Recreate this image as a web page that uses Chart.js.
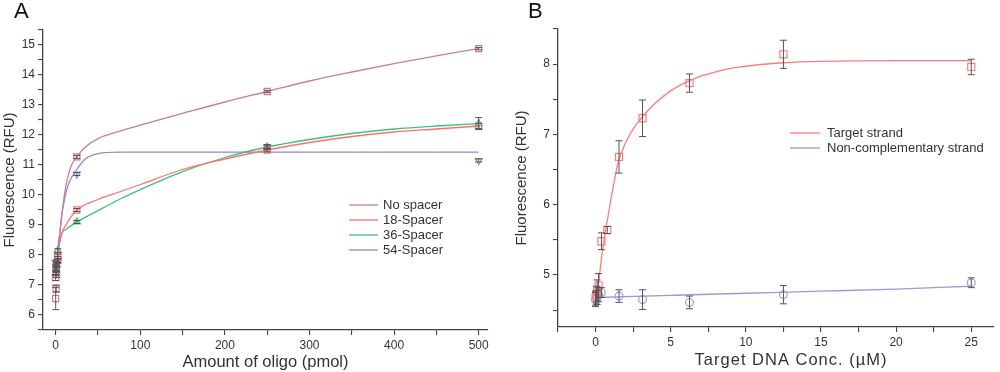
<!DOCTYPE html>
<html><head><meta charset="utf-8">
<script src="https://cdn.jsdelivr.net/npm/chart.js@4/dist/chart.umd.min.js"></script>
<style>
html,body{margin:0;padding:0;background:#fff;width:1000px;height:372px;overflow:hidden}
.p{position:absolute;top:0;width:500px;height:372px}
</style></head><body>
<div class="p" style="left:0"><canvas id="ca" width="500" height="372"></canvas></div>
<div class="p" style="left:500px"><canvas id="cb" width="500" height="372"></canvas></div>
<script>
// ---------- Panel A data ----------
const aLabels = ['No spacer','18-Spacer','36-Spacer','54-Spacer'];
const aX = [0, 0.5, 1, 2.5, 25, 250, 500];
const aNoY   = [6.55, 6.88, 7.35, 7.85, 11.27, 13.45, 14.88];
const aNoE   = [0.37, 0.12, 0.1, 0.1, 0.05, 0.04, 0.04];
const a18Y   = [7.25, 7.55, 7.7, 7.95, 9.5, 11.5, 12.3];
const a18E   = [0.1, 0.08, 0.08, 0.08, 0.05, 0.06, 0.08];
const a36Y   = [7.4, 7.5, 7.65, 8.15, 9.1, 11.6, 12.38];
const a36E   = [0.08, 0.08, 0.08, 0.06, 0.05, 0.06, 0.2];
const a54Y   = [7.75, 7.6, 7.55, 7.8, 10.7, 11.6, 11.15];
const a54E   = [0.08, 0.1, 0.08, 0.08, 0.05, 0.08, 0.05];
// fitted curves
const fitNoX  = [1, 3, 5, 8, 12, 18, 25, 35, 50, 75, 100, 150, 200, 250, 300, 350, 400, 450, 500];
const fitNoY  = [7.6, 8.3, 8.75, 9.5, 10.3, 10.95, 11.27, 11.6, 11.88, 12.12, 12.33, 12.72, 13.1, 13.45, 13.8, 14.1, 14.38, 14.64, 14.88];
const fit18X  = [1, 4, 7, 12, 25, 50, 75, 100, 150, 200, 250, 300, 350, 400, 450, 500];
const fit18Y  = [7.6, 8.3, 8.7, 9.0, 9.5, 9.85, 10.1, 10.35, 10.85, 11.2, 11.5, 11.75, 11.95, 12.1, 12.2, 12.3];
const fit36X  = [1, 4, 7, 12, 25, 50, 75, 100, 150, 200, 250, 300, 350, 400, 450, 500];
const fit36Y  = [7.6, 8.3, 8.7, 8.85, 9.1, 9.48, 9.85, 10.18, 10.78, 11.25, 11.6, 11.85, 12.05, 12.2, 12.3, 12.38];
const fit54X  = [1, 4, 7, 10, 15, 25, 35, 50, 75, 100, 200, 300, 400, 500];
const fit54Y  = [7.6, 8.5, 9.3, 9.8, 10.35, 10.85, 11.2, 11.38, 11.43, 11.43, 11.43, 11.43, 11.43, 11.43];

// ---------- Panel B data ----------
const bLabels = ['Target strand','Non-complementary strand'];
const bTX = [0, 0.05, 0.1, 0.2, 0.39, 0.78, 1.56, 3.125, 6.25, 12.5, 25];
const bTY = [4.67, 4.72, 4.78, 4.85, 5.48, 5.64, 6.68, 7.23, 7.73, 8.14, 7.96];
const bTE = [0.1, 0.12, 0.15, 0.17, 0.12, 0.05, 0.23, 0.26, 0.13, 0.2, 0.11];
const bNX = [0, 0.1, 0.2, 0.39, 1.56, 3.125, 6.25, 12.5, 25];
const bNY = [4.65, 4.68, 4.72, 4.75, 4.70, 4.65, 4.61, 4.72, 4.89];
const bNE = [0.1, 0.1, 0.1, 0.07, 0.09, 0.14, 0.09, 0.13, 0.07];
const fitTX = [0, 0.2, 0.4, 0.6, 0.8, 1.0, 1.5, 2, 2.5, 3, 4, 5, 6, 7, 8, 9, 10, 11, 12.5, 15, 20, 25];
const fitTY = [4.67, 4.9, 5.25, 5.55, 5.8, 6.05, 6.6, 6.88, 7.08, 7.22, 7.45, 7.62, 7.74, 7.83, 7.89, 7.94, 7.97, 7.995, 8.02, 8.04, 8.05, 8.05];
const fitNX = [0, 5, 10, 15, 20, 25];
const fitNY = [4.68, 4.71, 4.74, 4.77, 4.80, 4.84];

const colNo = '#c97e97', col18 = '#ff6f6f', col36 = '#3fbf7c', col54 = '#8b8bd2';
const colT = '#ff7b7b', colN = '#9a9ad8';
const axisCol = '#444', txtCol = '#333';
const FF = '"Liberation Sans", Arial, sans-serif';

const zip = (xs, ys) => xs.map((x, i) => ({x, y: ys[i]}));

function curve(label, xs, ys, color) {
  return {type: 'line', label, data: zip(xs, ys), borderColor: color, borderWidth: 1.3,
    pointRadius: 0, cubicInterpolationMode: 'monotone', fill: false, order: 2};
}
function marks(xs, ys, es, color, style, r, rot) {
  return {type: 'scatter', data: zip(xs, ys), errors: es, borderColor: color, backgroundColor: 'rgba(255,255,255,0)',
    pointStyle: style, pointRadius: r, pointRotation: rot || 0, pointBorderWidth: 1.2, order: 1, showLine: false};
}

const errorBars = {
  id: 'errorBars',
  afterDatasetsDraw(chart) {
    const ctx = chart.ctx, xs = chart.scales.x, ys = chart.scales.y;
    ctx.save();
    ctx.strokeStyle = '#555'; ctx.lineWidth = 1;
    chart.data.datasets.forEach(ds => {
      if (!ds.errors) return;
      ds.data.forEach((p, i) => {
        const e = ds.errors[i]; if (!e) return;
        const px = xs.getPixelForValue(p.x);
        const y1 = ys.getPixelForValue(p.y - e), y2 = ys.getPixelForValue(p.y + e);
        ctx.beginPath();
        ctx.moveTo(px, y1); ctx.lineTo(px, y2);
        ctx.moveTo(px - 3.5, y1); ctx.lineTo(px + 3.5, y1);
        ctx.moveTo(px - 3.5, y2); ctx.lineTo(px + 3.5, y2);
        ctx.stroke();
      });
    });
    ctx.restore();
  }
};

function legendPlugin(items, x0, x1, tx, ys, size) {
  return {
    id: 'customLegend',
    afterDraw(chart) {
      const ctx = chart.ctx; ctx.save();
      ctx.font = size + 'px ' + FF; ctx.textBaseline = 'middle'; ctx.fillStyle = txtCol;
      items.forEach((it, i) => {
        ctx.strokeStyle = it.color; ctx.lineWidth = 1.3;
        ctx.beginPath(); ctx.moveTo(x0, ys[i]); ctx.lineTo(x1, ys[i]); ctx.stroke();
        ctx.fillText(it.text, tx, ys[i] + 0.5);
      });
      ctx.restore();
    }
  };
}
function textPlugin(id, text, x, y, font, color, spacing, align) {
  return {id, afterDraw(chart) {
    const ctx = chart.ctx; ctx.save();
    ctx.font = font; ctx.fillStyle = color; ctx.textBaseline = 'middle'; ctx.textAlign = align || 'left';
    if (spacing) ctx.letterSpacing = spacing;
    ctx.fillText(text, x, y); ctx.restore();
  }};
}

function axisOpts(min, max, step, show, fitSize, horiz, title, tpad, tsize) {
  return {
    type: 'linear', min, max,
    afterFit(s) { if (horiz) s.height = fitSize; else s.width = fitSize; },
    border: {display: true, color: axisCol, width: 1.3},
    grid: {drawOnChartArea: false, drawTicks: true, tickLength: 5, color: axisCol, lineWidth: 1.1},
    ticks: {stepSize: step, includeBounds: false, color: txtCol, padding: 3, maxRotation: 0, autoSkip: false,
      font: {family: FF, size: 12},
      callback: v => show(v) ? String(v) : ''},
    title: {display: !!title, text: title || '', color: txtCol, font: {family: FF, size: tsize || 15}, padding: tpad || 0}
  };
}

Chart.defaults.animation = false;
Chart.defaults.font.family = FF;

new Chart(document.getElementById('ca'), {
  type: 'scatter',
  data: {datasets: [
    curve(aLabels[0], fitNoX, fitNoY, colNo),
    curve(aLabels[1], fit18X, fit18Y, col18),
    curve(aLabels[2], fit36X, fit36Y, col36),
    curve(aLabels[3], fit54X, fit54Y, col54),
    marks(aX, aNoY, aNoE, colNo, 'rect', 4.3),
    marks(aX, a18Y, a18E, col18, 'rect', 4.3),
    marks(aX, a36Y, a36E, col36, 'triangle', 4),
    marks(aX, a54Y, a54E, col54, 'triangle', 4, 180)
  ]},
  options: {
    responsive: false, animation: false,
    layout: {padding: {top: 30, right: 12, left: 0, bottom: 0}},
    plugins: {legend: {display: false}, tooltip: {enabled: false}},
    scales: {
      x: axisOpts(-15, 511, 50, v => v % 100 === 0, 42, true, 'Amount of oligo (pmol)', {top: 0, bottom: 0}, 16.5),
      y: axisOpts(5.5, 15.5, 0.5, v => Number.isInteger(v), 43, false, 'Fluorescence (RFU)', {top: 1, bottom: 0}, 15)
    }
  },
  plugins: [errorBars,
    legendPlugin([{text: aLabels[0], color: colNo}, {text: aLabels[1], color: col18}, {text: aLabels[2], color: col36}, {text: aLabels[3], color: col54}],
      349, 378, 383, [205, 220, 235, 250], 13),
    textPlugin('panelA', 'A', 14, 12, '22px ' + FF, '#111')]
});

new Chart(document.getElementById('cb'), {
  type: 'scatter',
  data: {datasets: [
    curve(bLabels[0], fitTX, fitTY, colT),
    curve(bLabels[1], fitNX, fitNY, colN),
    marks(bTX, bTY, bTE, colT, 'rect', 5),
    marks(bNX, bNY, bNE, colN, 'circle', 3.9)
  ]},
  options: {
    responsive: false, animation: false,
    layout: {padding: {top: 29, right: 2, left: 0, bottom: 0}},
    plugins: {legend: {display: false}, tooltip: {enabled: false}},
    scales: {
      x: axisOpts(-2.5, 26.5, 2.5, v => v % 5 === 0, 45, true, null),
      y: axisOpts(4.26, 8.5, 0.5, v => Number.isInteger(v), 58, false, 'Fluorescence (RFU)', {top: 13, bottom: 0}, 15)
    }
  },
  plugins: [errorBars,
    legendPlugin([{text: bLabels[0], color: colT}, {text: bLabels[1], color: colN}], 290, 320, 327, [133, 148], 13),
    textPlugin('xTitleB', 'Target DNA Conc. (µM)', 291, 360, '16.5px ' + FF, txtCol, '1px', 'center'),
    textPlugin('panelB', 'B', 28, 12, '22px ' + FF, '#111')]
});
</script>
</body></html>
